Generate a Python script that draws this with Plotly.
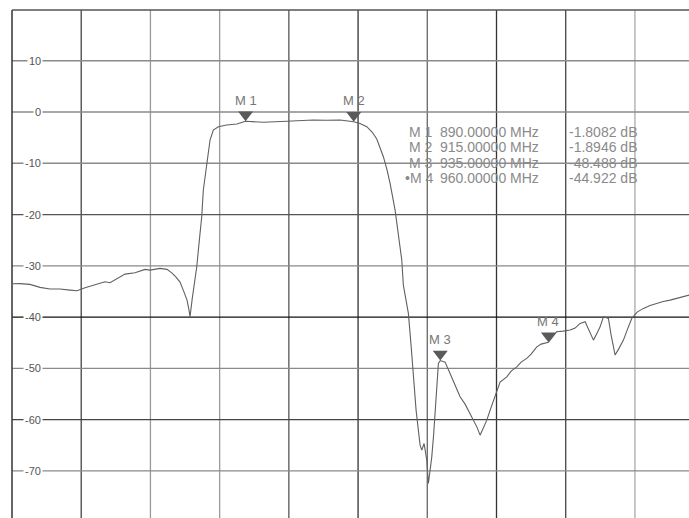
import plotly.graph_objects as go

# S21 transmission trace (frequency in MHz, magnitude in dB)
freq_mhz = [
    836.00, 837.85, 840.16, 842.47, 844.79, 847.10, 849.41, 851.03, 852.88, 855.19,
    857.50, 858.66, 860.97, 862.13, 864.44, 866.75, 867.91, 870.22, 871.84, 873.00,
    873.92, 874.84, 875.77, 876.46, 876.92, 877.16, 877.62, 878.08, 878.71, 879.24,
    879.86, 880.23, 881.02, 881.78, 882.54, 883.70, 885.64, 887.95, 890.00, 894.10,
    899.51, 902.59, 905.66, 908.60, 911.84, 915.00, 916.46, 918.01, 919.24, 920.32,
    921.09, 921.85, 922.71, 923.40, 924.56, 925.32, 926.10, 926.47, 927.10, 927.63,
    928.25, 928.79, 929.41, 929.94, 930.34, 930.73, 931.26, 931.88, 932.25, 932.65,
    933.04, 933.46, 933.80, 934.57, 935.00, 936.12, 937.27, 938.43, 939.58, 940.74,
    941.90, 943.45, 944.21, 944.91, 945.76, 946.53, 947.29, 948.07, 948.83, 950.38,
    951.38, 952.69, 953.69, 955.00, 956.00, 957.32, 958.31, 960.00, 960.86, 961.88,
    963.39, 965.01, 966.17, 967.33, 968.49, 969.41, 970.41, 971.26, 971.95, 972.72,
    973.87, 974.50, 975.42, 976.35, 977.34, 978.20, 979.28, 980.51, 981.97, 983.51,
    985.06, 986.52, 988.14, 990.45, 992.53,
]
s21_db = [
    -33.51, -33.47, -33.63, -34.21, -34.54, -34.54, -34.74, -34.87, -34.29, -33.63,
    -33.12, -33.31, -32.14, -31.62, -31.36, -30.70, -30.84, -30.50, -30.70, -31.42,
    -32.20, -33.18, -35.13, -36.69, -38.64, -39.95, -36.69, -33.76, -30.19, -25.57,
    -20.44, -15.22, -10.01, -5.46, -3.51, -2.87, -2.54, -2.34, -1.81, -2.01,
    -1.81, -1.66, -1.56, -1.62, -1.56, -1.89, -2.24, -2.87, -3.90, -5.27,
    -6.83, -8.72, -11.32, -13.92, -19.13, -23.67, -28.88, -33.76, -36.69, -39.29,
    -45.47, -52.30, -58.16, -62.06, -64.99, -65.96, -64.66, -67.92, -72.46, -69.87,
    -67.27, -63.04, -58.80, -49.04, -48.49, -48.79, -51.00, -53.28, -55.56, -56.99,
    -58.80, -61.42, -63.04, -61.67, -60.11, -58.16, -56.21, -54.25, -52.69, -51.66,
    -50.55, -49.71, -48.79, -48.07, -47.23, -45.80, -45.28, -44.92, -44.00, -42.88,
    -42.74, -42.54, -42.15, -41.24, -40.92, -42.54, -44.50, -43.13, -41.90, -39.95,
    -40.26, -43.52, -47.42, -46.06, -44.50, -42.54, -40.26, -39.03, -38.31, -37.76,
    -37.33, -36.98, -36.69, -36.20, -35.71,
]

# Marker readouts
marker_names = ["M 1", "M 2", "M 3", "M 4"]
marker_freq = [890.0, 915.0, 935.0, 960.0]
marker_freq_text = ["890.00000 MHz", "915.00000 MHz", "935.00000 MHz", "960.00000 MHz"]
marker_db = [-1.8082, -1.8946, -48.488, -44.922]
marker_db_text = ["-1.8082 dB", "-1.8946 dB", "-48.488 dB", "-44.922 dB"]

# Grid / axis definitions
x_start, x_div = 836.0, 16.0
x_range = [836.0, 992.5]
y_range = [-79.2, 19.9]
y_grid = [10, 0, -10, -20, -30, -40, -50, -60, -70]
y_tick_text = ["10", "0", "-10", "-20", "-30", "-40", "-50", "-60", "-70"]

W, H = 689, 518
ML, MT = 12, 10
plot_w, plot_h = W - ML, H - MT
px_per_db = plot_h / (y_range[1] - y_range[0])

FONT = "Liberation Sans, Arial, sans-serif"
TRACE_COLOR = "#606060"

def px_to_paper_x(px):
    return (px - ML) / plot_w

def px_to_paper_y(py):
    return 1 - (py - MT) / plot_h

fig = go.Figure()

fig.add_trace(go.Scatter(
    x=freq_mhz, y=s21_db, mode="lines",
    line=dict(color=TRACE_COLOR, width=1.1),
    hoverinfo="skip", showlegend=False,
))

# Downward triangles whose tips sit on the marker values
tri_size = 13
tip_offset_db = (tri_size / 2) / px_per_db
fig.add_trace(go.Scatter(
    x=marker_freq, y=[v + tip_offset_db for v in marker_db], mode="markers",
    marker=dict(symbol="triangle-down", size=tri_size, color="#5a5a5a",
                line=dict(width=0)),
    hoverinfo="skip", showlegend=False,
))

shapes = []
v_colors = ["#444444", "#9a9a9a", "#9a9a9a", "#555555", "#333333",
            "#666666", "#333333", "#444444", "#aaaaaa"]
for k, c in enumerate(v_colors, start=1):
    xv = x_start + k * x_div
    shapes.append(dict(type="line", xref="x", yref="paper", x0=xv, x1=xv,
                       y0=0, y1=1, line=dict(color=c, width=1.3), layer="below"))
h_colors = ["#8a8a8a", "#8a8a8a", "#8a8a8a", "#555555", "#8a8a8a",
            "#111111", "#8a8a8a", "#444444", "#8a8a8a"]
for yv, c in zip(y_grid, h_colors):
    shapes.append(dict(type="line", xref="paper", yref="y", x0=0, x1=1,
                       y0=yv, y1=yv, line=dict(color=c, width=1.3), layer="below"))
# frame edges
shapes.append(dict(type="line", xref="paper", yref="paper", x0=0, x1=0, y0=0, y1=1,
                   line=dict(color="#333333", width=1.5), layer="below"))
shapes.append(dict(type="line", xref="paper", yref="paper", x0=0, x1=1, y0=1, y1=1,
                   line=dict(color="#555555", width=1.5), layer="below"))

annotations = []
# dB scale labels inside the frame
for yv, t in zip(y_grid, y_tick_text):
    annotations.append(dict(
        xref="paper", yref="y", x=px_to_paper_x(43), y=yv, text=t,
        xanchor="right", yanchor="middle", showarrow=False,
        font=dict(family=FONT, size=11, color="#555555"),
        bgcolor="white", borderpad=1,
    ))

# marker labels above triangles
for name, f, v in zip(marker_names, marker_freq, marker_db):
    annotations.append(dict(
        xref="x", yref="y", x=f, y=v, text=name, yshift=21,
        xanchor="center", yanchor="middle", showarrow=False,
        font=dict(family=FONT, size=13, color="#777777"),
    ))

# marker readout table
row_py = [131.7, 147.3, 162.7, 178.3]
tfont = dict(family=FONT, size=14, color="#8a8a8a")
for i, py in enumerate(row_py):
    yp = px_to_paper_y(py)
    name = ("\u2022" if i == 3 else "") + marker_names[i]
    cells = [
        (name, 434, "right"),
        (marker_freq_text[i], 439, "left"),
        (marker_db_text[i], 568, "left"),
    ]
    for t, px, anchor in cells:
        annotations.append(dict(
            xref="paper", yref="paper", x=px_to_paper_x(px), y=yp, text=t,
            xanchor=anchor, yanchor="middle", showarrow=False, font=tfont,
            borderpad=0,
        ))

fig.update_layout(
    width=W, height=H,
    margin=dict(l=ML, r=0, t=MT, b=0, pad=0),
    paper_bgcolor="white", plot_bgcolor="white",
    xaxis=dict(range=x_range, showgrid=False, zeroline=False, showticklabels=False,
               ticks="", showline=False, fixedrange=True),
    yaxis=dict(range=y_range, showgrid=False, zeroline=False, showticklabels=False,
               ticks="", showline=False, fixedrange=True),
    shapes=shapes, annotations=annotations, showlegend=False,
)

fig.write_html("out.html")
